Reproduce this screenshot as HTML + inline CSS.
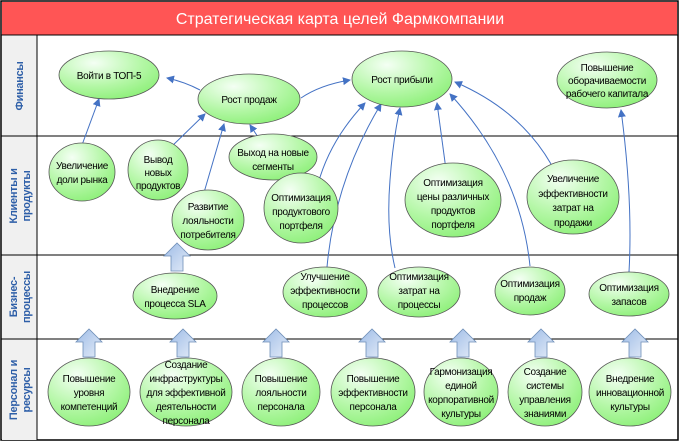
<!DOCTYPE html>
<html><head><meta charset="utf-8"><style>
body{margin:0;background:#fff}
svg text{font-family:"Liberation Sans",sans-serif;font-size:10px;fill:#000;text-anchor:middle;letter-spacing:-0.3px}
</style></head><body>
<svg width="680" height="442" viewBox="0 0 680 442" xmlns="http://www.w3.org/2000/svg">
<defs>
<radialGradient id="g" cx="0.35" cy="0.25" r="0.8"><stop offset="0" stop-color="#f4fff4"/><stop offset="0.6" stop-color="#b4f7a6"/><stop offset="1" stop-color="#8ef07a"/></radialGradient>
<linearGradient id="ba" x1="0" y1="0" x2="1" y2="1"><stop offset="0" stop-color="#9dbbe6"/><stop offset="1" stop-color="#e4ecf8"/></linearGradient>
<marker id="ah" markerWidth="8" markerHeight="8" refX="7" refY="4" orient="auto" markerUnits="userSpaceOnUse"><path d="M0,0 L8,4 L0,8 z" fill="#4472c4"/></marker>
<g id="blk"><path d="M-6,28 L-6,13 L-13,13 L0,0 L13,13 L6,13 L6,28 z" fill="url(#ba)" stroke="#6f8fb8" stroke-width="0.8"/></g>
</defs>
<rect x="1" y="1" width="677" height="439" fill="#fff" stroke="#000" stroke-width="1.5"/>
<rect x="2" y="2" width="675" height="33" fill="#ff5555"/>
<line x1="1" y1="35" x2="678" y2="35" stroke="#000"/>
<text x="340" y="24" style="font-size:16px;fill:#fff;letter-spacing:0">Стратегическая карта целей Фармкомпании</text>
<rect x="2" y="36" width="35" height="404" fill="#f0f0f0"/>
<line x1="37" y1="35" x2="37" y2="440" stroke="#000"/>
<g stroke="#000"><line x1="1" y1="136" x2="678" y2="136"/><line x1="1" y1="255" x2="678" y2="255"/><line x1="1" y1="339" x2="678" y2="339"/></g>
<text transform="translate(23,86) rotate(-90)" style="fill:#2e5fa8;font-weight:bold;font-size:11px">Финансы</text>
<text transform="translate(17,196) rotate(-90)" style="fill:#2e5fa8;font-weight:bold;font-size:11px">Клиенты и</text>
<text transform="translate(30,196) rotate(-90)" style="fill:#2e5fa8;font-weight:bold;font-size:11px">продукты</text>
<text transform="translate(17,297) rotate(-90)" style="fill:#2e5fa8;font-weight:bold;font-size:11px">Бизнес-</text>
<text transform="translate(30,297) rotate(-90)" style="fill:#2e5fa8;font-weight:bold;font-size:11px">процессы</text>
<text transform="translate(17,390) rotate(-90)" style="fill:#2e5fa8;font-weight:bold;font-size:11px">Персонал и</text>
<text transform="translate(30,390) rotate(-90)" style="fill:#2e5fa8;font-weight:bold;font-size:11px">ресурсы</text>
<g fill="none" stroke="#4472c4" stroke-width="1" marker-end="url(#ah)">
<path d="M200,90 Q185,82 167,78"/>
<path d="M301,98 Q320,85 350,80"/>
<path d="M82,145 L99,99"/>
<path d="M168,150 L205,114"/>
<path d="M203,196 L224,124"/>
<path d="M258,137 L250,125"/>
<path d="M318,184 Q330,140 365,103"/>
<path d="M327,267 Q335,180 381,104"/>
<path d="M395,268 Q386,230 390,180 Q393,140 400,108"/>
<path d="M447,177 L437,103"/>
<path d="M530,266 Q520,170 450,94"/>
<path d="M551,164 Q520,110 455,82"/>
<path d="M629,272 Q633,200 621,110"/>
</g>
<g stroke="#555" stroke-width="0.8" fill="url(#g)">
<ellipse cx="109" cy="75" rx="50" ry="24"/>
<ellipse cx="249" cy="99" rx="51" ry="25"/>
<ellipse cx="402" cy="79" rx="50" ry="28"/>
<ellipse cx="607" cy="80" rx="50" ry="28"/>
<ellipse cx="82" cy="172" rx="33" ry="29"/>
<ellipse cx="158" cy="170" rx="30" ry="30"/>
<ellipse cx="273" cy="157" rx="44" ry="23"/>
<ellipse cx="208" cy="220" rx="36" ry="30"/>
<ellipse cx="301" cy="208" rx="37" ry="35"/>
<ellipse cx="453" cy="200" rx="48" ry="37"/>
<ellipse cx="573" cy="197" rx="46" ry="37"/>
<ellipse cx="175" cy="296" rx="42" ry="23"/>
<ellipse cx="325" cy="292" rx="42" ry="25"/>
<ellipse cx="419" cy="292" rx="41" ry="25"/>
<ellipse cx="530" cy="291" rx="35" ry="24"/>
<ellipse cx="629" cy="294" rx="40" ry="22"/>
<ellipse cx="89" cy="392" rx="41" ry="34"/>
<ellipse cx="186" cy="392" rx="46" ry="34"/>
<ellipse cx="281" cy="392" rx="39" ry="34"/>
<ellipse cx="373" cy="392" rx="42" ry="34"/>
<ellipse cx="461" cy="392" rx="37" ry="34"/>
<ellipse cx="545" cy="392" rx="37" ry="34"/>
<ellipse cx="630" cy="392" rx="41" ry="34"/>
</g>
<use href="#blk" x="177" y="243"/>
<use href="#blk" x="89" y="329"/><use href="#blk" x="183" y="329"/><use href="#blk" x="276" y="329"/><use href="#blk" x="372" y="329"/><use href="#blk" x="463" y="329"/><use href="#blk" x="541" y="329"/><use href="#blk" x="635" y="329"/>
<text x="109" y="79">Войти в ТОП-5</text>
<text x="249" y="103">Рост продаж</text>
<text x="402" y="83">Рост прибыли</text>
<text x="607" y="71">Повышение</text><text x="607" y="84">оборачиваемости</text><text x="607" y="97">рабочего капитала</text>
<text x="82" y="169">Увеличение</text><text x="82" y="183">доли рынка</text>
<text x="158" y="163">Вывод</text><text x="158" y="176">новых</text><text x="158" y="189">продуктов</text>
<text x="273" y="156">Выход на новые</text><text x="273" y="170">сегменты</text>
<text x="208" y="210">Развитие</text><text x="208" y="224">лояльности</text><text x="208" y="238">потребителя</text>
<text x="301" y="201">Оптимизация</text><text x="301" y="215">продуктового</text><text x="301" y="229">портфеля</text>
<text x="453" y="186">Оптимизация</text><text x="453" y="200">цены различных</text><text x="453" y="214">продуктов</text><text x="453" y="228">портфеля</text>
<text x="573" y="182">Увеличение</text><text x="573" y="197">эффективности</text><text x="573" y="211">затрат на</text><text x="573" y="226">продажи</text>
<text x="175" y="293">Внедрение</text><text x="175" y="307">процесса SLA</text>
<text x="325" y="280">Улучшение</text><text x="325" y="294">эффективности</text><text x="325" y="308">процессов</text>
<text x="419" y="280">Оптимизация</text><text x="419" y="294">затрат на</text><text x="419" y="308">процессы</text>
<text x="530" y="287">Оптимизация</text><text x="530" y="301">продаж</text>
<text x="629" y="291">Оптимизация</text><text x="629" y="305">запасов</text>
<text x="89" y="382">Повышение</text><text x="89" y="396">уровня</text><text x="89" y="410">компетенций</text>
<text x="186" y="368">Создание</text><text x="186" y="382">инфраструктуры</text><text x="186" y="396">для эффективной</text><text x="186" y="410">деятельности</text><text x="186" y="424">персонала</text>
<text x="281" y="382">Повышение</text><text x="281" y="396">лояльности</text><text x="281" y="410">персонала</text>
<text x="373" y="382">Повышение</text><text x="373" y="396">эффективности</text><text x="373" y="410">персонала</text>
<text x="461" y="375">Гармонизация</text><text x="461" y="389">единой</text><text x="461" y="403">корпоративной</text><text x="461" y="417">культуры</text>
<text x="545" y="375">Создание</text><text x="545" y="389">системы</text><text x="545" y="403">управления</text><text x="545" y="417">знаниями</text>
<text x="630" y="382">Внедрение</text><text x="630" y="396">инновационной</text><text x="630" y="410">культуры</text>
</svg>
</body></html>
